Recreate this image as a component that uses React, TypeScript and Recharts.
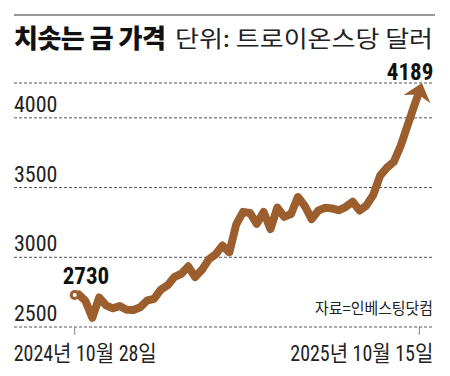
import React from "react";
import { LineChart, Line, XAxis, YAxis, CartesianGrid } from "recharts";

// days since 2024-10-28, weekly closes
const days = [
  0, 4, 11, 18, 25, 32, 39, 46, 53, 60, 67, 74, 81, 88, 95, 102, 109, 116, 123, 130,
  137, 144, 151, 158, 165, 172, 179, 186, 193, 200, 207, 214, 221, 228, 235, 242, 249,
  256, 263, 270, 277, 284, 291, 298, 305, 312, 319, 326, 333, 340, 347, 352,
];
const prices = [
  2730, 2734, 2687, 2566, 2712, 2655, 2634, 2650, 2624, 2622, 2642, 2690, 2702, 2768,
  2800, 2860, 2882, 2935, 2858, 2910, 2985, 3022, 3084, 3036, 3236, 3326, 3318, 3240,
  3325, 3202, 3357, 3290, 3310, 3432, 3368, 3274, 3336, 3355, 3350, 3337, 3362, 3398,
  3336, 3372, 3448, 3586, 3643, 3685, 3800, 3945, 4090, 4189,
];
const yTicks = [2500, 3000, 3500, 4000];
const xTicks = [0, 352];
const xLabels = ["2024년 10월 28일", "2025년 10월 15일"];

const data = days.map((d, i) => ({ day: d, price: prices[i] }));

const COLOR = "#9b5e2c";
const NUM_FONT =
  "'Liberation Sans Narrow', 'Roboto Condensed', 'Arial Narrow', 'Noto Sans CJK KR', sans-serif";
const KR_FONT = "'Noto Sans CJK KR', sans-serif";
const last = prices.length - 1;

const YTick = ({ x, y, payload }: any) => (
  <text x={x} y={y - 6} fontSize={22} fill="#222" fontFamily={NUM_FONT} textAnchor="start">
    {payload.value}
  </text>
);

const XTick = ({ x, y, index }: any) => {
  const first = index === 0;
  return (
    <text
      x={first ? x - 61 : x + 14}
      y={y + 24}
      fontSize={22}
      fill="#222"
      fontFamily={NUM_FONT}
      textAnchor={first ? "start" : "end"}
      textLength={143}
      lengthAdjust="spacingAndGlyphs"
    >
      {xLabels[index]}
    </text>
  );
};

const renderDot = (props: any) => {
  const { cx, cy, index } = props;
  if (index === 0) {
    return <circle key="start" cx={cx} cy={cy} r={3.5} fill="#fff" stroke={COLOR} strokeWidth={3} />;
  }
  if (index === last) {
    const ux = 0.29, uy = -0.957, nx = 0.957, ny = 0.29;
    const pts = [
      [cx + 9 * ux, cy + 9 * uy],
      [cx - 8 * ux + 14 * nx, cy - 8 * uy + 14 * ny],
      [cx - 3 * ux, cy - 3 * uy],
      [cx - 8 * ux - 14 * nx, cy - 8 * uy - 14 * ny],
    ];
    return <polygon key="end" points={pts.map((p) => p.join(",")).join(" ")} fill={COLOR} />;
  }
  return <g key={`d${index}`} />;
};

const renderLabel = (props: any) => {
  const { x, y, index, value } = props;
  if (index === 0) {
    return (
      <text key="l0" x={x - 12} y={y - 11} fontSize={23} fontWeight={700} fill="#111" fontFamily={NUM_FONT}>
        {value}
      </text>
    );
  }
  if (index === last) {
    return (
      <text key="l1" x={x + 14} y={y - 12} fontSize={23} fontWeight={700} fill="#111" fontFamily={NUM_FONT} textAnchor="end">
        {value}
      </text>
    );
  }
  return <g key={`l${index}`} />;
};

export default function App() {
  return (
    <div style={{ position: "relative", width: 450, height: 376, background: "#fff" }}>
      <style>{"body{margin:0}"}</style>
      <LineChart
        width={450}
        height={376}
        data={data}
        margin={{ top: 83, right: 17, bottom: 9, left: 14 }}
      >
        <CartesianGrid horizontal vertical={false} stroke="#555" strokeDasharray="3 2" />
        <XAxis
          dataKey="day"
          type="number"
          domain={[-62, 366]}
          ticks={xTicks}
          height={40}
          axisLine={false}
          tickSize={8}
          tickLine={{ stroke: "#888" }}
          tick={<XTick />}
          interval={0}
        />
        <YAxis
          type="number"
          domain={[2500, 4250]}
          ticks={yTicks}
          mirror
          axisLine={false}
          tickLine={false}
          tickSize={0}
          tickMargin={0}
          tick={<YTick />}
        />
        <Line
          type="linear"
          dataKey="price"
          stroke={COLOR}
          strokeWidth={8}
          strokeLinejoin="round"
          dot={renderDot}
          activeDot={false}
          label={renderLabel}
          isAnimationActive={false}
        />
      </LineChart>
      <svg
        width={450}
        height={376}
        style={{ position: "absolute", left: 0, top: 0, pointerEvents: "none" }}
      >
        <line x1={14} x2={435} y1={15} y2={15} stroke="#999" strokeWidth={2} />
        <text x={14} y={48} fontSize={26} fontWeight={900} fill="#111" fontFamily={KR_FONT} letterSpacing={-0.5}>
          치솟는 금 가격
        </text>
        <text x={175} y={47} fontSize={23} fill="#222" fontFamily={KR_FONT} textLength={258} lengthAdjust="spacingAndGlyphs">
          단위: 트로이온스당 달러
        </text>
        <text x={433} y={314} fontSize={16} fill="#222" fontFamily={KR_FONT} textAnchor="end" textLength={118} lengthAdjust="spacingAndGlyphs">
          자료=인베스팅닷컴
        </text>
      </svg>
    </div>
  );
}
